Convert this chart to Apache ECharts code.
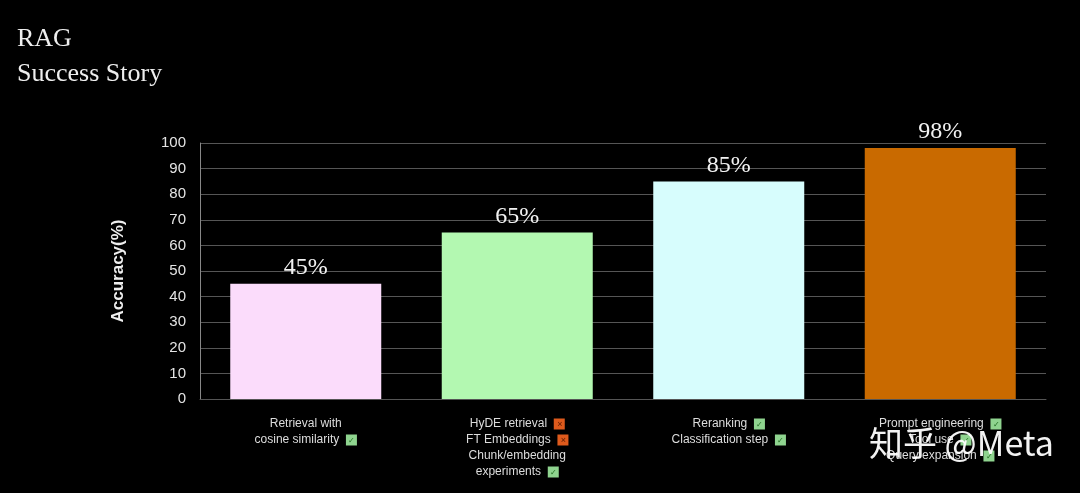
<!DOCTYPE html>
<html><head><meta charset="utf-8">
<script src="https://cdn.jsdelivr.net/npm/echarts@6/dist/echarts.min.js"></script>
<style>html,body{margin:0;padding:0;background:#000;}#c{width:1080px;height:493px;}</style>
</head><body><div id="c"></div>
<script>
const categories = [
  'Retrieval with\ncosine similarity  {ok|✓}',
  'HyDE retrieval  {no|×}\nFT Embeddings  {no|×}\nChunk/embedding\nexperiments  {ok|✓}',
  'Reranking  {ok|✓}\nClassification step  {ok|✓}',
  'Prompt engineering  {ok|✓}\nTool use  {ok|✓}\nQuery expansion  {ok|✓}'
];
const accuracy = [45, 65, 85, 98];
const barColors = ['#fbdcfb', '#b3f8b1', '#d7fdfd', '#c96a00'];
const yTicks = [0, 10, 20, 30, 40, 50, 60, 70, 80, 90, 100];

const chart = echarts.init(document.getElementById('c'));
chart.setOption({
  backgroundColor: '#000',
  animation: false,
  graphic: [
    {type:'text', left:17, top:26, style:{text:'RAG', fill:'#eeeeee', font:'26px "Liberation Serif", serif'}},
    {type:'text', left:17, top:61, style:{text:'Success Story', fill:'#eeeeee', font:'26px "Liberation Serif", serif'}},
    {type:'text', left:869, top:426, z:100, style:{text:'知乎 @Meta', fill:'rgba(255,255,255,0.95)', font:'34px "Noto Sans CJK SC", sans-serif'}}
  ],
  grid: {left: 200, right: 34, top: 143, bottom: 94},
  xAxis: {
    type: 'category',
    data: categories,
    axisLine: {lineStyle: {color: '#555', width: 1}},
    axisTick: {show: false},
    axisLabel: {
      interval: 0,
      margin: 17,
      color: '#dddddd',
      fontFamily: 'Liberation Sans, Arial, sans-serif',
      fontSize: 12,
      lineHeight: 16,
      rich: {
        ok: {backgroundColor: '#8fd48f', color: '#1f6b1f', width: 10, height: 10, fontSize: 8, align: 'center', lineHeight: 10, padding: [1, 0, 0, 1]},
        no: {backgroundColor: '#de5a1c', color: '#5a1a00', width: 10, height: 10, fontSize: 9, align: 'center', lineHeight: 10, padding: [1, 0, 0, 1]}
      }
    }
  },
  yAxis: {
    type: 'value',
    min: 0, max: 100, interval: 10,
    name: 'Accuracy(%)',
    nameLocation: 'middle',
    nameGap: 73,
    nameTextStyle: {color: '#eeeeee', fontSize: 17, fontWeight: 'bold', fontFamily: 'Liberation Sans, Arial, sans-serif'},
    axisLine: {show: true, lineStyle: {color: '#888', width: 1}},
    axisTick: {show: false},
    splitLine: {lineStyle: {color: '#555', width: 1}},
    axisLabel: {
      color: '#e4e4e4', fontSize: 15, margin: 14,
      fontFamily: 'Liberation Sans, Arial, sans-serif',
      formatter: v => yTicks.includes(v) ? String(v) : ''
    }
  },
  series: [{
    type: 'bar',
    barWidth: 151,
    data: accuracy.map((v, i) => ({value: v, itemStyle: {color: barColors[i]}})),
    label: {
      show: true, position: 'top', distance: 4,
      color: '#f2f2f2', fontSize: 24,
      fontFamily: 'Liberation Serif, serif',
      formatter: p => p.value + '%'
    }
  }]
});
</script></body></html>
